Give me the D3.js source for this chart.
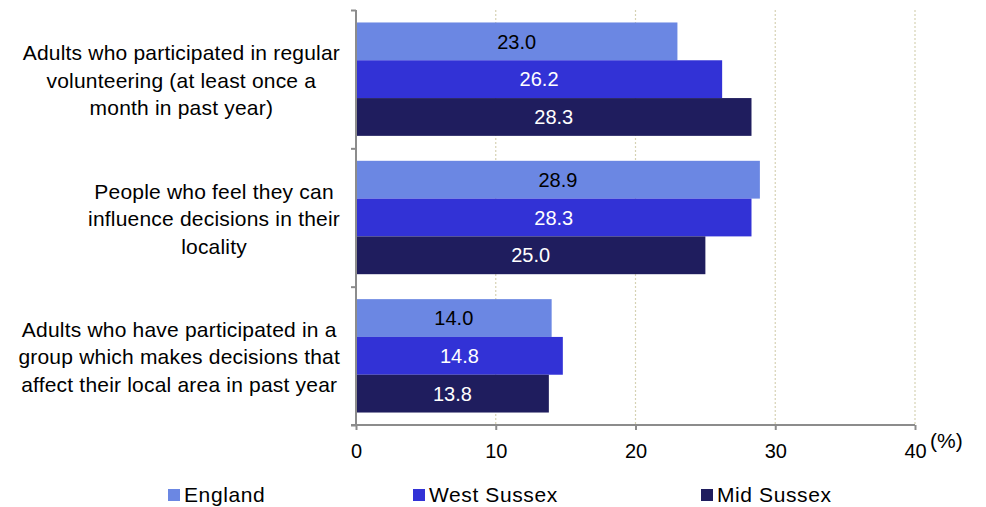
<!DOCTYPE html>
<html><head><meta charset="utf-8">
<script src="https://cdn.jsdelivr.net/npm/d3@7"></script>
<style>
html,body{margin:0;padding:0;background:#fff;}
text{font-family:"Liberation Sans",Arial,sans-serif;}
</style></head>
<body>
<svg id="chart" width="986" height="507"></svg>
<script>
const categories = [
  ["Adults who participated in regular","volunteering (at least once a","month in past year)"],
  ["People who feel they can","influence decisions in their","locality"],
  ["Adults who have participated in a","group which makes decisions that","affect their local area in past year"]
];
const seriesNames = ["England","West Sussex","Mid Sussex"];
const england = [23.0, 28.9, 14.0];
const westSussex = [26.2, 28.3, 14.8];
const midSussex = [28.3, 25.0, 13.8];
const tickValues = [0,10,20,30,40];
const colors = ["#6B87E3","#3232D6","#1F1D5E"];
const labelColors = ["#000","#fff","#fff"];

const seriesValues = [england, westSussex, midSussex];
const svg = d3.select("#chart");
const pLeft = 356, pRight = 915, pTop = 10, pBottom = 425;

const x = d3.scaleLinear().domain([0,40]).range([pLeft,pRight]);
const y = d3.scaleBand().domain(d3.range(categories.length)).range([pTop,pBottom]).paddingInner(0).paddingOuter(0);
const ys = d3.scaleBand().domain(seriesNames).range([0,y.bandwidth()]).paddingInner(0).paddingOuter(0.33);

// gridlines
svg.append("g").selectAll("line").data(tickValues.filter(d=>d>0)).join("line")
  .attr("x1",d=>x(d)).attr("x2",d=>x(d)).attr("y1",pTop).attr("y2",pBottom)
  .attr("stroke","#d6d2b4").attr("stroke-width",1.2).attr("stroke-dasharray","2,2");

// bars
const groups = svg.append("g").selectAll("g").data(categories).join("g")
  .attr("transform",(d,i)=>`translate(0,${y(i)})`);
groups.each(function(cat,ci){
  const g = d3.select(this);
  seriesNames.forEach((s,si)=>{
    const v = seriesValues[si][ci];
    g.append("rect").attr("x",x(0)+1).attr("y",ys(s)).attr("width",x(v)-x(0)-1).attr("height",ys.bandwidth())
      .attr("fill",colors[si]);
    g.append("text").attr("x",(x(0)+x(v))/2).attr("y",ys(s)+ys.bandwidth()/2).attr("dy","0.36em")
      .attr("text-anchor","middle").attr("font-size",20).attr("fill",labelColors[si]).text(v.toFixed(1));
  });
});

// x axis
const xAxis = d3.axisBottom(x).tickValues(tickValues).tickSize(5).tickPadding(14).tickFormat(d3.format("d"));
const xg = svg.append("g").attr("transform",`translate(0,${pBottom})`).call(xAxis);
xg.select(".domain").attr("stroke","#8c8c8c").attr("stroke-width",2).attr("d",`M${pLeft-5},0H${pRight}`);
xg.selectAll(".tick line").attr("stroke","#8c8c8c").attr("stroke-width",2);
xg.selectAll(".tick text").attr("font-size",20).attr("fill","#000").attr("font-family","Liberation Sans, Arial, sans-serif");
svg.append("text").attr("x",x(40)+15).attr("y",pBottom+23).attr("font-size",21).text("(%)");

// y axis
const yAxisScale = d3.scaleLinear().domain([0,categories.length]).range([pTop,pBottom]);
const yg = svg.append("g").attr("transform",`translate(${pLeft},0)`)
  .call(d3.axisLeft(yAxisScale).tickValues(d3.range(categories.length+1)).tickSize(5).tickFormat(""));
yg.select(".domain").attr("stroke","#8c8c8c").attr("stroke-width",2).attr("d",`M0,${pTop}V${pBottom}`);
yg.selectAll(".tick line").attr("stroke","#8c8c8c").attr("stroke-width",2);

// category labels
const labelRight = 340, lineH = 27.5;
categories.forEach((lines,ci)=>{
  const t = svg.append("text").attr("font-size",21).attr("letter-spacing",0.2).attr("text-anchor","middle");
  const cy = y(ci)+y.bandwidth()/2 + 1;
  const tsp = lines.map((ln,li)=>t.append("tspan").attr("y",cy+(li-(lines.length-1)/2)*lineH).attr("dy","0.36em").text(ln));
  const maxW = d3.max(tsp,s=>s.node().getComputedTextLength());
  tsp.forEach(s=>s.attr("x",labelRight-maxW/2));
});

// legend
const legendX = [168,413,701];
seriesNames.forEach((s,i)=>{
  svg.append("rect").attr("x",legendX[i]).attr("y",489).attr("width",12).attr("height",12).attr("fill",colors[i]);
  svg.append("text").attr("x",legendX[i]+16).attr("y",502).attr("font-size",21).attr("letter-spacing",0.6).text(s);
});
</script>
</body></html>
